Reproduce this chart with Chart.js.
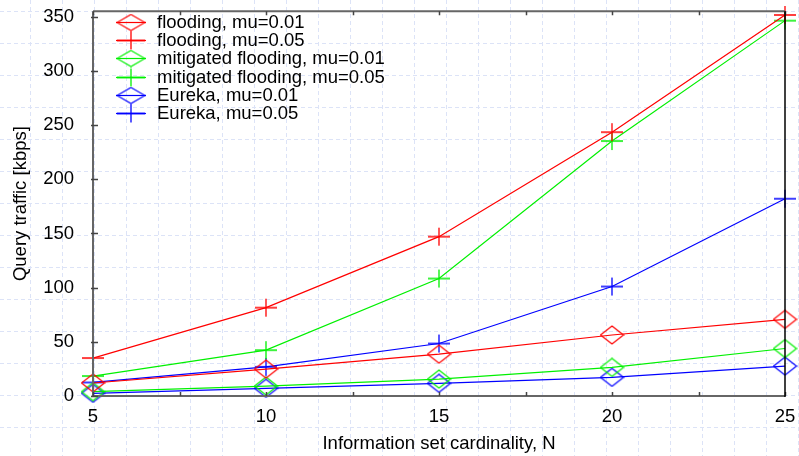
<!DOCTYPE html>
<html>
<head>
<meta charset="utf-8">
<script src="https://cdn.jsdelivr.net/npm/chart.js@4.4.1/dist/chart.umd.min.js"></script>
<style>
  html, body { margin: 0; padding: 0; background: #ffffff; }
  #wrap { width: 799px; height: 456px; position: relative; }
</style>
</head>
<body>
<div id="wrap"><canvas id="c" width="799" height="456"></canvas></div>
<script>
// ---- data ----
const nValues = [5, 10, 15, 20, 25];
const flooding001 = [12, 24.8, 38.6, 56.3, 70.7];
const flooding005 = [35, 81.5, 147, 243.4, 351.5];
const mitigated001 = [4, 9.2, 15.6, 26.4, 43.8];
const mitigated005 = [18.4, 42.3, 108.4, 235.2, 346.3];
const eureka001 = [2.5, 7.1, 11.7, 17.2, 27.6];
const eureka005 = [12.5, 26.9, 48.4, 101, 182];
const seriesLabels = [
  'flooding, mu=0.01', 'flooding, mu=0.05',
  'mitigated flooding, mu=0.01', 'mitigated flooding, mu=0.05',
  'Eureka, mu=0.01', 'Eureka, mu=0.05'
];
const xTickValues = [5, 10, 15, 20, 25];
const xMinorTickValues = [5, 7.5, 10, 12.5, 15, 17.5, 20, 22.5, 25];
const yTickValues = [0, 50, 100, 150, 200, 250, 300, 350];

// ---- marker images ----
function diamondImg(color, w, h) {
  const c = document.createElement('canvas');
  c.width = w + 2; c.height = h + 2;
  const g = c.getContext('2d');
  g.strokeStyle = color; g.lineWidth = 1.2;
  const cx = c.width / 2, cy = c.height / 2;
  g.beginPath();
  g.moveTo(cx, cy - h / 2); g.lineTo(cx + w / 2, cy); g.lineTo(cx, cy + h / 2); g.lineTo(cx - w / 2, cy); g.closePath();
  g.stroke();
  return c;
}
function crossImg(color, w, h) {
  const c = document.createElement('canvas');
  c.width = w + 2; c.height = h + 2;
  const g = c.getContext('2d');
  g.strokeStyle = color; g.lineWidth = 1.3;
  const cx = c.width / 2, cy = c.height / 2;
  g.beginPath();
  g.moveTo(cx - w / 2, cy); g.lineTo(cx + w / 2, cy);
  g.moveTo(cx, cy - h / 2); g.lineTo(cx, cy + h / 2);
  g.stroke();
  return c;
}
const RED = '#ff0000', GREEN = '#00f000', BLUE = '#0000ff';
const seriesValues = [flooding001, flooding005, mitigated001, mitigated005, eureka001, eureka005];
const seriesColors = [RED, RED, GREEN, GREEN, BLUE, BLUE];
const seriesMarker = ['diamond', 'cross', 'diamond', 'cross', 'diamond', 'cross'];

const datasets = seriesValues.map((vals, i) => {
  const col = seriesColors[i];
  const img = seriesMarker[i] === 'diamond' ? diamondImg(col, 23, 18) : crossImg(col, 22, 18);
  const legImg = seriesMarker[i] === 'diamond' ? diamondImg(col, 28, 16) : crossImg(col, 28, 18);
  return {
    label: seriesLabels[i],
    data: nValues.map((x, k) => ({ x: x, y: vals[k] })),
    borderColor: col,
    backgroundColor: col,
    borderWidth: 1.2,
    pointStyle: img,
    legendImg: legImg,
    pointRadius: 10,
    pointHoverRadius: 10,
    tension: 0,
    clip: false
  };
});

const FONT = "'Liberation Sans', Arial, sans-serif";
const FS = 18.5;

const bgGrid = {
  id: 'bgGrid',
  beforeDraw(chart) {
    const ctx = chart.ctx;
    ctx.save();
    ctx.fillStyle = '#ffffff';
    ctx.fillRect(0, 0, chart.width, chart.height);
    ctx.strokeStyle = '#dce3f7';
    ctx.lineWidth = 1;
    ctx.setLineDash([4, 3]);
    ctx.beginPath();
    for (let x = 29.7; x < chart.width; x += 32) { ctx.moveTo(Math.round(x) + 0.5, 0); ctx.lineTo(Math.round(x) + 0.5, chart.height); }
    for (let y = 11.3; y < chart.height; y += 32) { ctx.moveTo(0, Math.round(y) + 0.5); ctx.lineTo(chart.width, Math.round(y) + 0.5); }
    ctx.stroke();
    ctx.restore();
  }
};

const frame = {
  id: 'frame',
  afterDraw(chart) {
    const ctx = chart.ctx;
    const a = chart.chartArea;
    const xs = chart.scales.x, ys = chart.scales.y;
    ctx.save();
    ctx.setLineDash([]);
    ctx.strokeStyle = '#666666';
    ctx.lineWidth = 2;
    ctx.beginPath();
    ctx.moveTo(a.left, a.top); ctx.lineTo(a.right, a.top);
    ctx.moveTo(a.left, a.top); ctx.lineTo(a.left, a.bottom + 1);
    ctx.moveTo(a.left, a.bottom); ctx.lineTo(a.right, a.bottom);
    ctx.stroke();
    ctx.lineWidth = 1.5;
    ctx.strokeStyle = '#444444';
    ctx.beginPath();
    xMinorTickValues.forEach(v => {
      const px = Math.round(xs.getPixelForValue(v)) + 0.5;
      ctx.moveTo(px, a.bottom); ctx.lineTo(px, a.bottom - 4);
      ctx.moveTo(px, a.top); ctx.lineTo(px, a.top + 4);
    });
    yTickValues.forEach(v => {
      const py = Math.round(ys.getPixelForValue(v)) + 0.5;
      ctx.moveTo(a.left - 2, py); ctx.lineTo(a.left + 5, py);
    });
    ctx.stroke();
    ctx.strokeStyle = '#000000';
    ctx.lineWidth = 1.5;
    ctx.beginPath();
    ctx.moveTo(a.right, a.top); ctx.lineTo(a.right, a.bottom + 1);
    ctx.stroke();
    ctx.restore();
  }
};

const customLegend = {
  id: 'customLegend',
  afterDraw(chart) {
    const ctx = chart.ctx;
    ctx.save();
    ctx.font = FS + 'px ' + FONT;
    ctx.textBaseline = 'middle';
    ctx.textAlign = 'left';
    chart.data.datasets.forEach((ds, i) => {
      const y = 21.7 + 18.3 * i;
      ctx.strokeStyle = ds.borderColor;
      ctx.lineWidth = 1.2;
      ctx.beginPath();
      ctx.moveTo(116, Math.round(y) + 0.5); ctx.lineTo(146, Math.round(y) + 0.5);
      ctx.stroke();
      const img = ds.legendImg;
      ctx.drawImage(img, 131 - img.width / 2, Math.round(y) + 0.5 - img.height / 2);
      ctx.fillStyle = '#000000';
      ctx.fillText(ds.label, 157, y + 1);
    });
    ctx.restore();
  }
};

new Chart(document.getElementById('c'), {
  type: 'line',
  data: { datasets: datasets },
  options: {
    responsive: false,
    animation: false,
    devicePixelRatio: 1,
    layout: { padding: { left: 0, right: 14, top: 9.5, bottom: 0 } },
    plugins: { legend: { display: false }, tooltip: { enabled: false } },
    scales: {
      x: {
        type: 'linear',
        min: 5, max: 25,
        afterFit(s) { s.height = 60; s.paddingLeft = 0; s.paddingRight = 0; },
        afterBuildTicks(s) { s.ticks = xTickValues.map(v => ({ value: v })); },
        grid: { display: false },
        border: { display: false },
        ticks: { color: '#000000', font: { family: FONT, size: FS }, padding: 2, maxRotation: 0 },
        title: { display: true, text: 'Information set cardinality, N', color: '#000000', font: { family: FONT, size: FS }, padding: { top: 0, bottom: 1 } }
      },
      y: {
        type: 'linear',
        min: 0, max: 355,
        afterFit(s) { s.width = 93; s.paddingTop = 0; s.paddingBottom = 0; },
        afterBuildTicks(s) { s.ticks = yTickValues.map(v => ({ value: v })); },
        grid: { display: false },
        border: { display: false },
        ticks: { color: '#000000', font: { family: FONT, size: FS }, padding: 11 },
        title: { display: true, text: 'Query traffic [kbps]', color: '#000000', font: { family: FONT, size: FS }, padding: { top: 10.3, bottom: 0 } }
      }
    }
  },
  plugins: [bgGrid, frame, customLegend]
});
</script>
</body>
</html>
